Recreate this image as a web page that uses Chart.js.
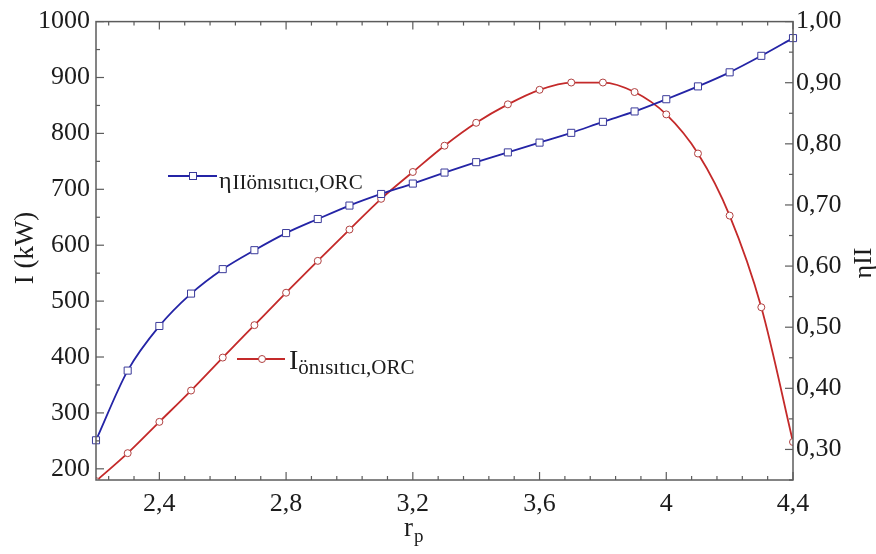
<!DOCTYPE html>
<html>
<head>
<meta charset="utf-8">
<script src="https://cdn.jsdelivr.net/npm/chart.js@4/dist/chart.umd.min.js"></script>
<style>
  html, body { margin: 0; padding: 0; background: #ffffff; }
  #wrap { width: 876px; height: 554px; }
</style>
</head>
<body>
<div id="wrap"><canvas id="c" width="876" height="554"></canvas></div>
<script>
// Pressure ratio r_p
const rp = [2.2, 2.3, 2.4, 2.5, 2.6, 2.7, 2.8, 2.9, 3.0, 3.1, 3.2, 3.3,
            3.4, 3.5, 3.6, 3.7, 3.8, 3.9, 4.0, 4.1, 4.2, 4.3, 4.4];
// Second-law efficiency of the preheater (right axis)
const etaII = [0.315, 0.429, 0.502, 0.555, 0.595, 0.626, 0.654, 0.677, 0.699, 0.718, 0.735, 0.753,
               0.770, 0.786, 0.802, 0.818, 0.836, 0.853, 0.873, 0.894, 0.917, 0.944, 0.973];
// Exergy destruction of the preheater, kW (left axis)
const exergyI = [178, 228, 284, 340, 399, 457, 515, 572, 628, 683, 731, 778,
                 819, 852, 878, 891, 891, 874, 834, 764, 653, 489, 248];

// Labelled tick values
const xTicks = [2.4, 2.8, 3.2, 3.6, 4, 4.4];
const leftTicks = [200, 300, 400, 500, 600, 700, 800, 900, 1000];
const rightTicks = [0.3, 0.4, 0.5, 0.6, 0.7, 0.8, 0.9, 1.0];

const SERIF = "'Liberation Serif', 'DejaVu Serif', serif";
const INK = '#1c1c1c';
const BLUE = '#2424a6';
const RED = '#c42a2a';
const FRAME = '#5c5c5c';

const tickFont = { family: SERIF, size: 26 };

// Box frame with inward major/minor tick marks on all four sides
const framePlugin = {
  id: 'frame',
  afterDatasetsDraw(chart) {
    const { ctx, chartArea: a, scales } = chart;
    const x = scales.x, yL = scales.yL, yR = scales.yR;
    ctx.save();
    ctx.strokeStyle = FRAME;
    ctx.lineWidth = 1.5;
    ctx.strokeRect(a.left, a.top, a.right - a.left, a.bottom - a.top);
    ctx.lineWidth = 1.2;
    const seg = (x1, y1, x2, y2) => { ctx.beginPath(); ctx.moveTo(x1, y1); ctx.lineTo(x2, y2); ctx.stroke(); };
    // x: minor every 0.08, major every 0.4
    for (let k = 28; k <= 55; k++) {
      const px = x.getPixelForValue(k * 0.08);
      const len = (k % 5 === 0) ? 8 : 4;
      seg(px, a.bottom, px, a.bottom - len);
      seg(px, a.top, px, a.top + len);
    }
    // left: minor every 50, major every 100
    for (let v = 200; v <= 1000; v += 50) {
      const py = yL.getPixelForValue(v);
      const len = (v % 100 === 0) ? 8 : 4;
      seg(a.left, py, a.left + len, py);
    }
    // right: minor every 0.05, major every 0.1
    for (let k = 5; k <= 20; k++) {
      const py = yR.getPixelForValue(k * 0.05);
      const len = (k % 2 === 0) ? 8 : 4;
      seg(a.right, py, a.right - len, py);
    }
    ctx.restore();
  }
};

// Axis titles and in-plot series labels
const textPlugin = {
  id: 'texts',
  afterDraw(chart) {
    const { ctx } = chart;
    ctx.save();
    ctx.fillStyle = INK;
    ctx.textBaseline = 'alphabetic';

    // left axis title
    ctx.save();
    ctx.translate(33, 248);
    ctx.rotate(-Math.PI / 2);
    ctx.textAlign = 'center';
    ctx.font = `27px ${SERIF}`;
    ctx.fillText('I (kW)', 0, 0);
    ctx.restore();

    // right axis title
    ctx.save();
    ctx.translate(871, 263);
    ctx.rotate(-Math.PI / 2);
    ctx.textAlign = 'center';
    ctx.font = `26px ${SERIF}`;
    ctx.fillText('ηII', 0, 0);
    ctx.restore();

    // x axis title r_p
    ctx.textAlign = 'left';
    ctx.font = `27px ${SERIF}`;
    ctx.fillText('r', 404, 536);
    ctx.font = `19px ${SERIF}`;
    ctx.fillText('p', 414, 542);

    // blue series label
    ctx.strokeStyle = BLUE;
    ctx.lineWidth = 1.8;
    ctx.beginPath(); ctx.moveTo(168, 176); ctx.lineTo(217, 176); ctx.stroke();
    ctx.fillStyle = '#ffffff';
    ctx.fillRect(189.5, 172.5, 7, 7);
    ctx.strokeStyle = '#3a3a9a';
    ctx.lineWidth = 1;
    ctx.strokeRect(189.5, 172.5, 7, 7);
    ctx.fillStyle = INK;
    ctx.font = `24px ${SERIF}`;
    ctx.fillText('η', 219, 188);
    const wEta = ctx.measureText('η').width;
    ctx.font = `21px ${SERIF}`;
    ctx.fillText('IIönısıtıcı,ORC', 219 + wEta + 1, 189);

    // red series label
    ctx.strokeStyle = RED;
    ctx.lineWidth = 1.8;
    ctx.beginPath(); ctx.moveTo(237, 359); ctx.lineTo(285, 359); ctx.stroke();
    ctx.fillStyle = '#ffffff';
    ctx.beginPath(); ctx.arc(262, 359, 3.5, 0, Math.PI * 2); ctx.fill();
    ctx.strokeStyle = '#b04040';
    ctx.lineWidth = 1;
    ctx.stroke();
    ctx.fillStyle = INK;
    ctx.font = `28px ${SERIF}`;
    ctx.fillText('I', 289, 369);
    const wI = ctx.measureText('I').width;
    ctx.font = `21px ${SERIF}`;
    ctx.fillText('önısıtıcı,ORC', 289 + wI, 374);

    ctx.restore();
  }
};

const comma = (s) => s.replace('.', ',');

new Chart(document.getElementById('c'), {
  type: 'line',
  data: {
    datasets: [
      {
        label: 'ηII önısıtıcı,ORC',
        data: rp.map((v, i) => ({ x: v, y: etaII[i] })),
        yAxisID: 'yR',
        borderColor: BLUE,
        borderWidth: 1.8,
        pointStyle: 'rect',
        pointRadius: 5,
        pointBackgroundColor: '#ffffff',
        pointBorderColor: '#3a3a9a',
        pointBorderWidth: 1,
        cubicInterpolationMode: 'monotone',
        clip: false
      },
      {
        label: 'I önısıtıcı,ORC',
        data: rp.map((v, i) => ({ x: v, y: exergyI[i] })),
        yAxisID: 'yL',
        borderColor: RED,
        borderWidth: 1.8,
        pointStyle: 'circle',
        pointRadius: 3.5,
        pointBackgroundColor: '#ffffff',
        pointBorderColor: '#b04040',
        pointBorderWidth: 1,
        cubicInterpolationMode: 'monotone',
        clip: 0
      }
    ]
  },
  options: {
    responsive: false,
    animation: false,
    events: [],
    layout: { padding: { top: 15, left: 0, right: 0, bottom: 0 } },
    plugins: { legend: { display: false }, title: { display: false }, tooltip: { enabled: false } },
    scales: {
      x: {
        type: 'linear',
        position: 'bottom',
        min: 2.2,
        max: 4.4,
        grid: { display: false, drawTicks: false },
        border: { display: false },
        ticks: {
          font: tickFont, color: INK, padding: 9, maxRotation: 0, autoSkip: false,
          callback: (v) => comma(String(v))
        },
        afterBuildTicks: (s) => { s.ticks = xTicks.map((v) => ({ value: v })); },
        afterFit: (s) => { s.height = 74; }
      },
      yL: {
        type: 'linear',
        position: 'left',
        min: 180,
        max: 1000,
        grid: { display: false, drawTicks: false },
        border: { display: false },
        ticks: {
          font: tickFont, color: INK, padding: 6, autoSkip: false,
          callback: (v) => String(v)
        },
        afterBuildTicks: (s) => { s.ticks = leftTicks.map((v) => ({ value: v })); },
        afterFit: (s) => { s.width = 96; }
      },
      yR: {
        type: 'linear',
        position: 'right',
        min: 0.25,
        max: 1.0,
        grid: { display: false, drawTicks: false },
        border: { display: false },
        ticks: {
          font: tickFont, color: INK, padding: 3, autoSkip: false,
          callback: (v) => comma(Number(v).toFixed(2))
        },
        afterBuildTicks: (s) => { s.ticks = rightTicks.map((v) => ({ value: v })); },
        afterFit: (s) => { s.width = 83; }
      }
    }
  },
  plugins: [framePlugin, textPlugin]
});
</script>
</body>
</html>
